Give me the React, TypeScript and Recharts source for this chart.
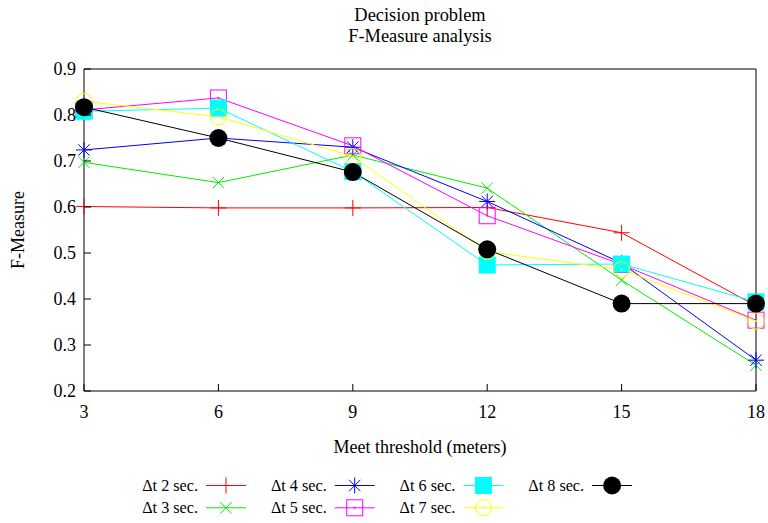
import React from "react";
import { LineChart, Line, XAxis, YAxis, ReferenceArea } from "recharts";

const thresholds = [3, 6, 9, 12, 15, 18];
const yTicks = [0.2, 0.3, 0.4, 0.5, 0.6, 0.7, 0.8, 0.9];

const dt2 = [0.601, 0.598, 0.598, 0.599, 0.544, 0.385];
const dt3 = [0.697, 0.653, 0.713, 0.641, 0.441, 0.256];
const dt4 = [0.724, 0.75, 0.73, 0.612, 0.478, 0.267];
const dt5 = [0.811, 0.837, 0.733, 0.581, 0.475, 0.354];
const dt6 = [0.808, 0.815, 0.677, 0.474, 0.476, 0.394];
const dt7 = [0.83, 0.796, 0.71, 0.503, 0.464, 0.352];
const dt8 = [0.817, 0.75, 0.676, 0.508, 0.39, 0.39];

const seriesNames = ["Δt 2 sec.", "Δt 3 sec.", "Δt 4 sec.", "Δt 5 sec.", "Δt 6 sec.", "Δt 7 sec.", "Δt 8 sec."];
const seriesValues = [dt2, dt3, dt4, dt5, dt6, dt7, dt8];
const seriesColors = ["#ff0000", "#00ee00", "#0000ff", "#ff00ff", "#00ffff", "#ffff00", "#000000"];
const seriesMarkers = ["plus", "cross", "star", "box", "boxFill", "circle", "circleFill"];

const data = thresholds.map((x, i) => {
  const row: Record<string, number> = { x };
  seriesValues.forEach((vals, s) => {
    row["s" + s] = vals[i];
  });
  return row;
});

const FONT = "'Liberation Serif', 'Times New Roman', serif";

function Marker({ kind, cx, cy, color }: { kind: string; cx: number; cy: number; color: string }) {
  const r = 8;
  const d = 5.7;
  if (kind === "plus")
    return (
      <g stroke={color} strokeWidth={1}>
        <line x1={cx - r} y1={cy} x2={cx + r} y2={cy} />
        <line x1={cx} y1={cy - r} x2={cx} y2={cy + r} />
      </g>
    );
  if (kind === "cross")
    return (
      <g stroke={color} strokeWidth={1}>
        <line x1={cx - d} y1={cy - d} x2={cx + d} y2={cy + d} />
        <line x1={cx - d} y1={cy + d} x2={cx + d} y2={cy - d} />
      </g>
    );
  if (kind === "star")
    return (
      <g stroke={color} strokeWidth={1}>
        <line x1={cx - r} y1={cy} x2={cx + r} y2={cy} />
        <line x1={cx} y1={cy - r} x2={cx} y2={cy + r} />
        <line x1={cx - d} y1={cy - d} x2={cx + d} y2={cy + d} />
        <line x1={cx - d} y1={cy + d} x2={cx + d} y2={cy - d} />
      </g>
    );
  if (kind === "box")
    return (
      <g>
        <rect x={cx - 8} y={cy - 8} width={16} height={16} fill="none" stroke={color} strokeWidth={1} />
        <circle cx={cx} cy={cy} r={1} fill={color} />
      </g>
    );
  if (kind === "boxFill") return <rect x={cx - 8.5} y={cy - 8.5} width={17} height={17} fill={color} />;
  if (kind === "circle")
    return (
      <g>
        <circle cx={cx} cy={cy} r={8} fill="none" stroke={color} strokeWidth={1} />
        <circle cx={cx} cy={cy} r={1} fill={color} />
      </g>
    );
  return <circle cx={cx} cy={cy} r={9} fill={color} />;
}

function YTick(props: any) {
  const { x, y, payload } = props;
  return (
    <g>
      <line x1={x + 8} y1={y} x2={x + 15} y2={y} stroke="#000" />
      <text x={x} y={y} dy={6} textAnchor="end" fontFamily={FONT} fontSize={18} fill="#000">
        {payload.value.toFixed(1)}
      </text>
    </g>
  );
}

function XTick(props: any) {
  const { x, y, payload } = props;
  return (
    <g>
      <line x1={x} y1={y - 13} x2={x} y2={y - 20} stroke="#000" />
      <text x={x} y={y} dy={14} textAnchor="middle" fontFamily={FONT} fontSize={18} fill="#000">
        {payload.value}
      </text>
    </g>
  );
}

function LegendBlock() {
  return (
    <svg width={768} height={53} style={{ position: "absolute", left: 0, top: 470 }}>
      {seriesNames.map((name, i) => {
        const col = Math.floor(i / 2);
        const row = i % 2;
        const lx = 206 + col * 128.7;
        const ly = 15.5 + row * 22.3;
        return (
          <g key={name}>
            <text x={lx - 8} y={ly} dy={5.5} textAnchor="end" fontFamily={FONT} fontSize={16.2} fill="#000">
              {name}
            </text>
            <line x1={lx} y1={ly} x2={lx + 40} y2={ly} stroke={seriesColors[i]} strokeWidth={1} />
            <Marker kind={seriesMarkers[i]} cx={lx + 20} cy={ly} color={seriesColors[i]} />
          </g>
        );
      })}
    </svg>
  );
}

export default function App() {
  return (
    <div style={{ position: "absolute", left: 0, top: 0, width: 768, height: 523, background: "#fff" }}>
      <svg width={768} height={60} style={{ position: "absolute", left: 0, top: 0 }}>
        <text x={420} y={21} textAnchor="middle" fontFamily={FONT} fontSize={18.4} fill="#000">
          Decision problem
        </text>
        <text x={420} y={42} textAnchor="middle" fontFamily={FONT} fontSize={18.4} fill="#000">
          F-Measure analysis
        </text>
      </svg>
      <LineChart
        width={768}
        height={523}
        data={data}
        margin={{ top: 69, right: 12, left: 34, bottom: 102 }}
        style={{ position: "absolute", left: 0, top: 0 }}
      >
        <XAxis
          dataKey="x"
          type="number"
          domain={[3, 18]}
          ticks={thresholds}
          tickLine={false}
          axisLine={false}
          tickSize={0}
          tickMargin={13}
          height={30}
          tick={<XTick />}
          label={{ value: "Meet threshold (meters)", position: "bottom", offset: 19, style: { fontFamily: FONT, fontSize: 18, fill: "#000" } }}
        />
        <YAxis
          type="number"
          domain={[0.2, 0.9]}
          ticks={yTicks}
          tickLine={false}
          axisLine={false}
          tickSize={0}
          tickMargin={8}
          width={50}
          tick={<YTick />}
          label={{ value: "F-Measure", angle: -90, position: "insideLeft", dx: -21, style: { fontFamily: FONT, fontSize: 18, fill: "#000", textAnchor: "middle" } }}
        />
        <ReferenceArea x1={3} x2={18} y1={0.2} y2={0.9} fill="none" stroke="#000" strokeWidth={1} strokeOpacity={1} />
        {seriesValues.map((_, s) => (
          <Line
            key={s}
            type="linear"
            dataKey={"s" + s}
            name={seriesNames[s]}
            stroke={seriesColors[s]}
            strokeWidth={1}
            isAnimationActive={false}
            dot={(p: any) => <Marker key={"m" + s + "-" + p.index} kind={seriesMarkers[s]} cx={p.cx} cy={p.cy} color={seriesColors[s]} />}
            activeDot={false}
          />
        ))}
      </LineChart>
      <LegendBlock />
    </div>
  );
}
